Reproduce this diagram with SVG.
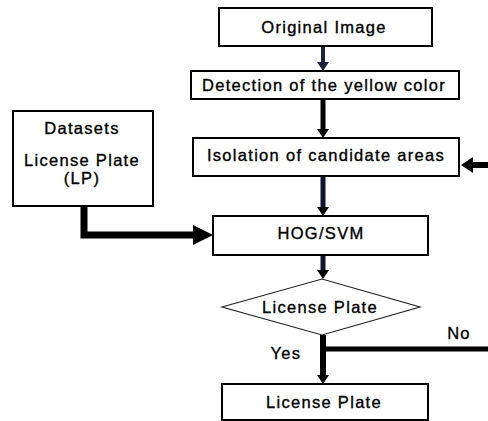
<svg xmlns="http://www.w3.org/2000/svg" width="488" height="421" viewBox="0 0 488 421">
<style>
.box{fill:#fff;stroke:#000;stroke-width:2}
.dia{fill:#fff;stroke:#222;stroke-width:1.2}
text{font-family:"Liberation Sans",Arial,sans-serif;font-size:16.5px;letter-spacing:1.3px;fill:#000;stroke:#000;stroke-width:0.35;text-anchor:middle}
.c{fill:none;stroke:#000}
</style>
<defs>
<marker id="ah" viewBox="0 0 9 12" refX="2" refY="6" markerWidth="9" markerHeight="12" markerUnits="userSpaceOnUse" orient="auto" preserveAspectRatio="none"><path d="M0,0 L9,6 L0,12 z" fill="#000"/></marker>
<marker id="ahb" viewBox="0 0 9 12" refX="2" refY="6" markerWidth="9" markerHeight="12" markerUnits="userSpaceOnUse" orient="auto" preserveAspectRatio="none"><path d="M0,0 L9,6 L0,12 z" fill="#1b2540"/></marker>
<marker id="big" viewBox="0 0 20 20" refX="2" refY="10" markerWidth="20" markerHeight="20" markerUnits="userSpaceOnUse" orient="auto" preserveAspectRatio="none"><path d="M0,0 L20,10 L0,20 z" fill="#000"/></marker>
<marker id="mid" viewBox="0 0 12 16" refX="2" refY="8" markerWidth="12" markerHeight="16" markerUnits="userSpaceOnUse" orient="auto" preserveAspectRatio="none"><path d="M0,0 L12,8 L0,16 z" fill="#000"/></marker>
</defs>
<g id="connectors">
<line class="c" x1="323" y1="46" x2="323" y2="64" stroke-width="4" style="stroke:#1b2540" marker-end="url(#ahb)"/>
<line class="c" x1="323" y1="99" x2="323" y2="131" stroke-width="5" marker-end="url(#ah)"/>
<line class="c" x1="323" y1="176" x2="323" y2="209" stroke-width="5" style="stroke:#0d1530" marker-end="url(#ah)"/>
<line class="c" x1="323" y1="255" x2="323" y2="272" stroke-width="5" style="stroke:#0d1530" marker-end="url(#ah)"/>
<line class="c" x1="323" y1="335" x2="323" y2="377" stroke-width="6" marker-end="url(#ah)"/>
<line class="c" x1="320" y1="349" x2="488" y2="349" stroke-width="5"/>
<path class="c" d="M84,206 V235 H195" stroke-width="7" marker-end="url(#big)"/>
<line class="c" x1="488" y1="165" x2="471" y2="165" stroke-width="6" marker-end="url(#mid)"/>
</g>
<g id="original">
<rect class="box" x="219" y="8" width="213" height="38"/>
<text x="324" y="33">Original Image</text>
</g>
<g id="detection">
<rect class="box" x="191" y="71" width="268" height="28"/>
<text x="324" y="91">Detection of the yellow color</text>
</g>
<g id="isolation">
<rect class="box" x="193" y="138" width="266" height="38"/>
<text x="326" y="161">Isolation of candidate areas</text>
</g>
<g id="datasets">
<rect class="box" x="13" y="111" width="140" height="95"/>
<text x="82" y="134">Datasets</text>
<text x="82" y="166">License Plate</text>
<text x="82" y="184">(LP)</text>
</g>
<g id="hogsvm">
<rect class="box" x="213" y="216" width="215" height="39"/>
<text x="321" y="239">HOG/SVM</text>
</g>
<g id="decision">
<polygon class="dia" points="222,307 322,279 420,307 322,335"/>
<text x="320" y="313">License Plate</text>
</g>
<g id="labels">
<text x="286" y="359">Yes</text>
<text x="459" y="339">No</text>
</g>
<g id="result">
<rect class="box" x="222" y="384" width="206" height="36"/>
<text x="324" y="408">License Plate</text>
</g>
</svg>
